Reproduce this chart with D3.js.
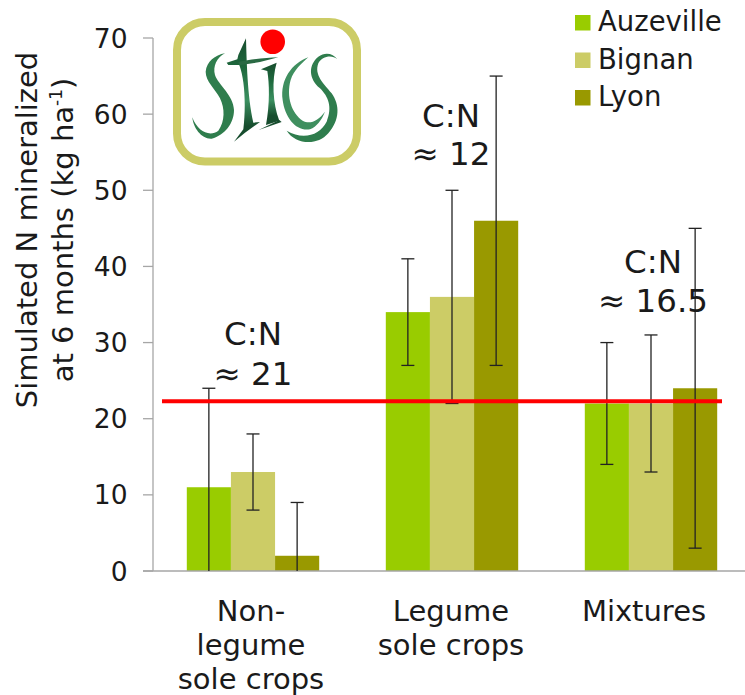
<!DOCTYPE html>
<html><head><meta charset="utf-8">
<script src="https://cdn.jsdelivr.net/npm/d3@7"></script>
<style>html,body{margin:0;padding:0;background:#fff;overflow:hidden}svg{display:block}text{font-family:"DejaVu Sans",Verdana,sans-serif;fill:#1a1a1a}</style>
</head><body><svg id="c" width="745" height="695"></svg>
<script>
const categories=["Non-legume sole crops","Legume sole crops","Mixtures"];
const categoryLines=[["Non-","legume","sole crops"],["Legume","sole crops"],["Mixtures"]];
const sites=["Auzeville","Bignan","Lyon"];
const colors=["#99cc00","#cccc66","#999900"];
const auzeville=[11,34,22];
const bignan=[13,36,22];
const lyon=[2,46,24];
const lowAuzeville=[0,27,14];
const highAuzeville=[24,41,30];
const lowBignan=[8,22,13];
const highBignan=[18,50,31];
const lowLyon=[0,27,3];
const highLyon=[9,65,45];
const yTicks=[0,10,20,30,40,50,60,70];
const meanLine=22.3;
const cnLabels=[["C:N","≈ 21"],["C:N","≈ 12"],["C:N","≈ 16.5"]];
const values=[auzeville,bignan,lyon];
const lows=[lowAuzeville,lowBignan,lowLyon];
const highs=[highAuzeville,highBignan,highLyon];

const svg=d3.select("#c");
const y=d3.scaleLinear().domain([0,70]).range([571,38]);
const x0=d3.scaleBand().domain(categories).range([153.5,750.5]).paddingInner(0).paddingOuter(0);
const x1=d3.scaleBand().domain(sites).range([33.3,165.7]);

// bars
sites.forEach((s,si)=>{
  svg.append("g").selectAll("rect").data(categories).join("rect")
    .attr("x",c=>x0(c)+x1(s)).attr("width",x1.bandwidth())
    .attr("y",(c,i)=>y(values[si][i])).attr("height",(c,i)=>y(0)-y(values[si][i]))
    .attr("fill",colors[si]);
});
// axes
const ax=svg.append("g");
ax.append("line").attr("x1",153).attr("x2",153).attr("y1",y(70)).attr("y2",y(0)).attr("stroke","#a6a6a6").attr("stroke-width",1.3);
ax.append("line").attr("x1",143).attr("x2",745).attr("y1",y(0)).attr("y2",y(0)).attr("stroke","#a6a6a6").attr("stroke-width",1.3);
ax.selectAll("line.t").data(yTicks).join("line").attr("class","t")
  .attr("x1",143).attr("x2",153).attr("y1",d=>y(d)).attr("y2",d=>y(d)).attr("stroke","#a6a6a6").attr("stroke-width",1.3);
ax.selectAll("text").data(yTicks).join("text").attr("x",127.5).attr("y",d=>y(d)+9.5)
  .attr("text-anchor","end").attr("font-size",26.5).text(d=>d);
// error bars
sites.forEach((s,si)=>{
  const g=svg.append("g").attr("stroke","#222").attr("stroke-width",1.3);
  categories.forEach((c,i)=>{
    const cx=x0(c)+x1(s)+x1.bandwidth()/2;
    g.append("line").attr("x1",cx).attr("x2",cx).attr("y1",y(highs[si][i])).attr("y2",y(lows[si][i]));
    g.append("line").attr("x1",cx-6.5).attr("x2",cx+6.5).attr("y1",y(highs[si][i])).attr("y2",y(highs[si][i]));
    if(lows[si][i]>0) g.append("line").attr("x1",cx-6.5).attr("x2",cx+6.5).attr("y1",y(lows[si][i])).attr("y2",y(lows[si][i]));
  });
});
// red line
svg.append("line").attr("x1",162).attr("x2",722).attr("y1",y(meanLine)).attr("y2",y(meanLine)).attr("stroke","#ff0000").attr("stroke-width",4);
// category labels
const catX=[251,451,644];
categories.forEach((c,i)=>{
  categoryLines[i].forEach((l,j)=>{
    svg.append("text").attr("x",catX[i]).attr("y",621+j*33.9).attr("text-anchor","middle").attr("font-size",29).text(l);
  });
});
// C:N labels
const cnX=[253,451,653], cnY=[[345,385],[127,165],[273,312]];
cnLabels.forEach((ls,i)=>ls.forEach((l,j)=>{
  svg.append("text").attr("x",cnX[i]).attr("y",cnY[i][j]).attr("text-anchor","middle").attr("font-size",32.5).text(l);
}));
// y title
const ty=svg.append("text").attr("transform","translate(37,230) rotate(-90)").attr("text-anchor","middle").attr("font-size",29);
ty.append("tspan").attr("x",0).attr("y",0).text("Simulated N mineralized");
const t2=ty.append("tspan").attr("x",0).attr("y",36).text("at 6 months (kg ha");
t2.append("tspan").attr("font-size",17).attr("dy",-11).text("-1");
t2.append("tspan").attr("dy",11).text(")");
// legend
sites.forEach((s,i)=>{
  svg.append("rect").attr("x",575).attr("y",15+i*37.5).attr("width",15.5).attr("height",15.5).attr("fill",colors[i]);
  svg.append("text").attr("x",598).attr("y",31+i*37.5).attr("font-size",27.5).text(s);
});
// logo
const defs=svg.append("defs");
const grad=defs.append("linearGradient").attr("id","inkGrad").attr("x1",0).attr("x2",0).attr("y1",0).attr("y2",1);
[[0,"#174d2e"],[0.3,"#1f6a3e"],[0.6,"#3b9060"],[0.85,"#174d2e"],[1,"#174d2e"]].forEach(p=>grad.append("stop").attr("offset",p[0]).attr("stop-color",p[1]));
const logo=svg.append("g");
logo.append("rect").attr("x",177).attr("y",22).attr("width",180).attr("height",139.5).attr("rx",28).attr("fill","#fff").attr("stroke","#cccc66").attr("stroke-width",8);
const ink=logo.append("g").attr("transform","translate(160,0) scale(0.3333)");
const strokes=[
 ["M195,160 C165,165 140,185 137,215 C137,245 165,265 180,295 C195,325 195,365 175,392 C150,412 112,395 97,352 C100,385 125,418 155,416 C195,405 222,370 222,330 C220,285 175,255 165,225 C158,200 170,172 195,160 Z","#2f7d4d"],
 ["M235,165 L258,115 C260,180 262,290 280,368 L300,366 L255,398 L222,425 L250,388 C258,320 255,240 238,195 L205,195 L200,188 L232,178 Z","url(#inkGrad)"],
 ["M235,186 C280,176 320,174 355,172 L300,186 L238,196 Z","#2a6a44"],
 ["M303,208 L350,188 C335,240 338,310 358,362 L318,375 C330,310 328,250 322,213 Z","url(#inkGrad)"],
 ["M296,390 L358,360 L365,366 Z","#174d2e"],
 ["M445,172 C395,190 360,240 368,300 C375,355 410,395 450,388 C470,380 485,360 495,335 C475,362 450,375 428,362 C395,340 378,290 392,240 C402,210 425,190 445,172 Z","#3f8f5f"],
 ["M532,178 C520,160 495,155 475,170 C445,195 445,235 480,265 C505,290 518,320 500,365 C480,405 430,422 380,392 C405,432 470,440 505,400 C540,360 540,315 515,280 C490,250 462,225 475,190 C485,170 515,162 532,178 Z","#2f7d4d"]
];
strokes.forEach(d=>ink.append("path").attr("d",d[0]).attr("fill",d[1]));
logo.append("circle").attr("cx",272.7).attr("cy",41.7).attr("r",12.3).attr("fill","#ff0000");
</script></body></html>
